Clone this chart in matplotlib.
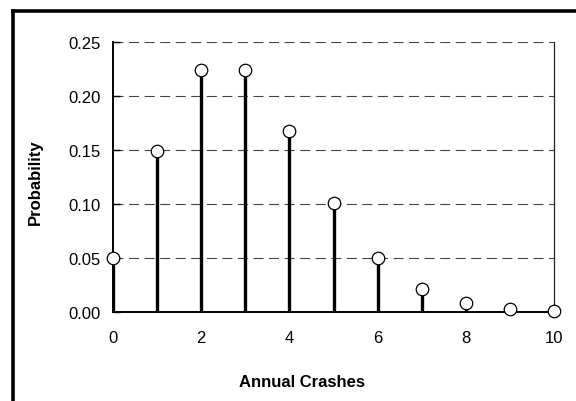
import matplotlib
matplotlib.use("Agg")
import matplotlib.pyplot as plt
from matplotlib.lines import Line2D

crashes = [0, 1, 2, 3, 4, 5, 6, 7, 8, 9, 10]
probability = [0.0498, 0.1494, 0.2240, 0.2240, 0.1680, 0.1008, 0.0504, 0.0216, 0.0081, 0.0027, 0.0008]
yticks = [0.00, 0.05, 0.10, 0.15, 0.20, 0.25]
xticks = [0, 2, 4, 6, 8, 10]

plt.rcParams['font.family'] = ['Liberation Sans', 'DejaVu Sans']

W, H = 576, 402
fig = plt.figure(figsize=(W / 100, H / 100), dpi=100)
L, R, T, B = 113, 554, 43, 313
ax = fig.add_axes([L / W, 1 - B / H, (R - L) / W, (B - T) / H])

ax.set_xlim(0, 10)
ax.set_ylim(0, 0.25)

for y in yticks[1:]:
    ax.axhline(y, color='#444444', lw=0.8, ls=(0, (9, 5)), zorder=1)

ax.vlines(crashes, 0, probability, colors='black', lw=2.4, zorder=2)
ax.plot(crashes, probability, 'o', ms=9, mfc='white', mec='black', mew=0.9,
        zorder=3, clip_on=False)

ax.set_yticks(yticks)
ax.set_yticklabels([f"{v:.2f}" for v in yticks])
ax.set_xticks(xticks)
ax.set_xticklabels([str(v) for v in xticks])
ax.tick_params(axis='y', direction='in', length=5, width=1, pad=9, labelsize=12)
ax.tick_params(axis='x', length=0, pad=13, labelsize=12)

ax.spines['top'].set_visible(False)
ax.spines['left'].set_linewidth(1.4)
ax.spines['bottom'].set_linewidth(1.4)
ax.spines['right'].set_linewidth(0.9)
ax.spines['right'].set_color('#222222')

fig.text(302 / W, 1 - 383 / H, 'Annual Crashes', ha='center', va='center',
         fontsize=12, fontweight='bold')
fig.text(35 / W, 1 - 182 / H, 'Probability', ha='center', va='center',
         rotation=90, fontsize=12, fontweight='bold')

# outer chart frame (left and top edges visible)
fig.add_artist(Line2D([12.5 / W, 12.5 / W], [0, 1 - 11.5 / H], color='black', lw=2.6,
                      transform=fig.transFigure, solid_capstyle='projecting'))
fig.add_artist(Line2D([12.5 / W, 1], [1 - 11.5 / H, 1 - 11.5 / H], color='black', lw=2.6,
                      transform=fig.transFigure, solid_capstyle='projecting'))

fig.savefig('out.png', dpi=100)
